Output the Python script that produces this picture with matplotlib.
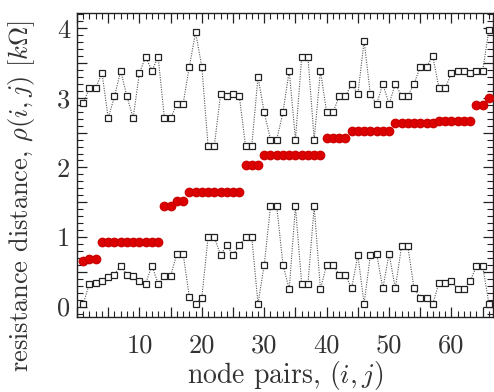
import matplotlib
matplotlib.use("Agg")
import matplotlib.pyplot as plt
from matplotlib.ticker import MultipleLocator, FuncFormatter

plt.rcParams['font.family'] = 'serif'
plt.rcParams['font.serif'] = ['cmr10', 'DejaVu Serif']
plt.rcParams['mathtext.fontset'] = 'cm'
plt.rcParams['axes.formatter.use_mathtext'] = True
plt.rcParams['axes.unicode_minus'] = False

pairs = list(range(1, 67))

upper = [2.93, 3.14, 3.14, 3.36, 2.71, 3.02, 3.39, 3.02, 2.71, 3.36,
         3.59, 3.39, 3.59, 2.71, 2.71, 2.91, 2.91, 3.45, 3.94, 3.45,
         2.31, 2.31, 3.05, 3.03, 3.05, 3.03, 2.31, 2.31, 3.30, 2.79,
         2.40, 2.40, 2.79, 3.39, 2.40, 3.59, 3.59, 2.40, 3.39, 2.79,
         2.79, 3.02, 3.02, 3.20, 3.05, 3.82, 3.05, 2.91, 3.20, 2.91,
         3.20, 3.03, 3.03, 3.20, 3.45, 3.45, 3.60, 3.14, 3.14, 3.36,
         3.39, 3.39, 3.36, 3.39, 3.39, 3.98]

resistance = [0.65, 0.69, 0.69] + [0.93] * 10 + [1.44] * 2 + [1.52] * 2 + \
             [1.65] * 9 + [2.03] * 3 + [2.18] * 10 + [2.43] * 4 + \
             [2.52] * 7 + [2.64] * 7 + [2.67] * 6 + [2.90] * 2 + [3.00]

lower = [0.04, 0.33, 0.34, 0.37, 0.43, 0.46, 0.59, 0.46, 0.44, 0.37,
         0.33, 0.59, 0.33, 0.44, 0.44, 0.76, 0.76, 0.14, 0.04, 0.13,
         1.00, 1.00, 0.74, 0.88, 0.74, 0.88, 1.00, 1.00, 0.04, 0.60,
         1.44, 1.44, 0.60, 0.25, 1.44, 0.32, 0.32, 1.44, 0.25, 0.60,
         0.60, 0.46, 0.46, 0.26, 0.74, 0.04, 0.74, 0.76, 0.26, 0.76,
         0.26, 0.87, 0.87, 0.26, 0.13, 0.13, 0.04, 0.34, 0.34, 0.37,
         0.25, 0.25, 0.37, 0.58, 0.58, 0.04]

text_color = '#333333'

fig = plt.figure(figsize=(4.94, 3.92), dpi=100)
ax = fig.add_axes([77 / 494, 1 - 317 / 392, (493 - 77) / 494, (317 - 13) / 392])

line_kw = dict(color='#555555', linestyle=(0, (1, 1.2)), linewidth=0.8,
               marker='s', markersize=4.8, markerfacecolor='white',
               markeredgecolor='#222222', markeredgewidth=0.9)
ax.plot(pairs, upper, **line_kw, zorder=3)
ax.plot(pairs, lower, **line_kw, zorder=3)
ax.plot(pairs, resistance, linestyle='none', marker='o', markersize=6,
        color='#dd0000', markeredgecolor='#cc0000', zorder=4)

ax.set_xlim(0, 66.65)
ax.set_ylim(-0.15, 4.22)

ax.xaxis.set_major_locator(MultipleLocator(5))
ax.xaxis.set_minor_locator(MultipleLocator(1))
ax.xaxis.set_major_formatter(FuncFormatter(
    lambda v, p: f"{int(round(v))}" if (round(v) % 10 == 0 and round(v) > 0) else ""))
ax.yaxis.set_major_locator(MultipleLocator(0.5))
ax.yaxis.set_minor_locator(MultipleLocator(0.1))
ax.yaxis.set_major_formatter(FuncFormatter(
    lambda v, p: f"{int(round(v))}" if abs(v - round(v)) < 1e-6 else ""))

ax.tick_params(which='both', direction='in', top=True, right=True,
               colors='#222222', labelcolor=text_color)
ax.tick_params(which='major', length=7.5, width=0.9, labelsize=19)
ax.tick_params(axis='x', which='major', pad=12)
ax.tick_params(axis='y', which='major', pad=5)
ax.tick_params(which='minor', length=4, width=0.8)
for s in ax.spines.values():
    s.set_linewidth(1.0)
    s.set_color('#222222')

ax.set_xlabel(r"node pairs, $(i,j)$", fontsize=20, labelpad=1, color=text_color)
ax.set_ylabel(r"resistance distance, $\rho(i,j)$ $[k\Omega]$", fontsize=19,
              color=text_color)
ax.yaxis.set_label_coords((37 - 77) / 416, (317 - 196) / 304)

fig.savefig("out.png", dpi=100)
